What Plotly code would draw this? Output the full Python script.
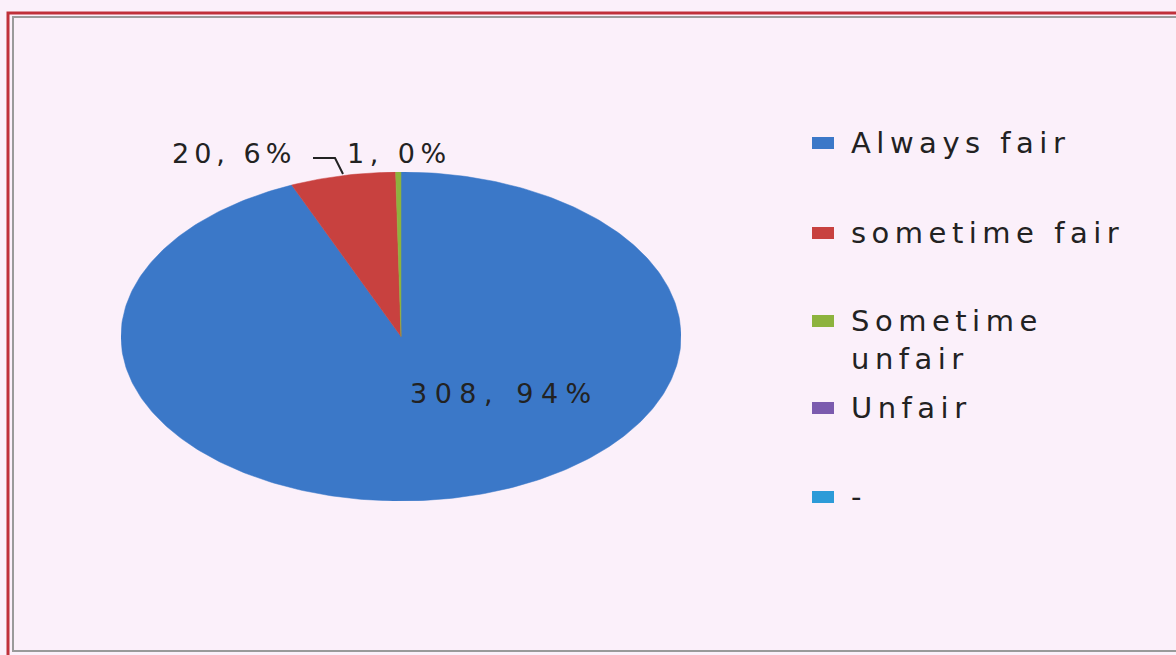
import numpy as np
import plotly.graph_objects as go

categories = ["Always fair", "sometime fair", "Sometime unfair", "Unfair", "-"]
legend_labels = ["Always fair", "sometime fair", "Sometime<br>unfair", "Unfair", "-"]
values = [308, 20, 1, 0, 0]
colors = ["#3B78C8", "#C8413F", "#8DB33E", "#7B5BAE", "#2C9BD8"]

W, H = 1176, 655
FONT = "DejaVu Sans"
TXT = "#222222"

def px(x):
    return x / W

def py(y):
    return 1 - y / H

def spaced(t, s):
    return "<br>".join(f'<span style="letter-spacing:{s}px">{p}</span>' for p in t.split("<br>"))

total = sum(values)
fig = go.Figure()

# pie slices drawn as filled sectors, clockwise from 12 o'clock; the axes stretch it to an ellipse
start = 0.0
for cat, v, c in zip(categories, values, colors):
    frac = v / total
    if v > 0:
        th = np.linspace(start, start + frac, max(int(frac * 400), 3)) * 2 * np.pi
        xs = np.concatenate([[0], np.sin(th), [0]])
        ys = np.concatenate([[0], np.cos(th), [0]])
        fig.add_trace(go.Scatter(x=xs, y=ys, fill="toself", fillcolor=c, mode="lines",
                                 line=dict(color=c, width=0.5), name=cat,
                                 showlegend=False, hoverinfo="name"))
    start += frac

fig.update_xaxes(range=[-1, 1], domain=[px(121), px(681)], visible=False, fixedrange=True)
fig.update_yaxes(range=[-1, 1], domain=[py(501), py(172)], visible=False, fixedrange=True)

def lab(i):
    return f"{values[i]}, {round(100 * values[i] / total)}%"

annotations = [
    dict(x=px(504), y=py(393), xref="paper", yref="paper", text=spaced(lab(0), 7.5), showarrow=False,
         font=dict(family=FONT, size=27, color=TXT), xanchor="center", yanchor="middle"),
    dict(x=px(170), y=py(153), xref="paper", yref="paper", text=spaced(lab(1), 5), showarrow=False,
         font=dict(family=FONT, size=27, color=TXT), xanchor="left", yanchor="middle"),
    dict(x=px(345), y=py(153), xref="paper", yref="paper", text=spaced(lab(2), 5.5), showarrow=False,
         font=dict(family=FONT, size=27, color=TXT), xanchor="left", yanchor="middle"),
]

shapes = [
    # outer frame (red on top/left, grey inner line)
    dict(type="rect", xref="paper", yref="paper", x0=px(8), x1=px(1190), y0=py(665), y1=py(13),
         line=dict(color="#C0303A", width=3), fillcolor="rgba(0,0,0,0)"),
    dict(type="rect", xref="paper", yref="paper", x0=px(13), x1=px(1190), y0=py(651), y1=py(17),
         line=dict(color="#9A9A9A", width=2), fillcolor="rgba(0,0,0,0)"),
    # leader line for small slice label
    dict(type="path", xref="paper", yref="paper",
         path=f"M {px(313)},{py(158)} L {px(335)},{py(158)} L {px(343)},{py(174)}",
         line=dict(color="#222222", width=2)),
]

# manual legend
leg_y = [143, 233, 321, 408, 497]
for txt, c, y in zip(legend_labels, colors, leg_y):
    shapes.append(dict(type="rect", xref="paper", yref="paper", x0=px(812), x1=px(834),
                       y0=py(y + 6), y1=py(y - 6), fillcolor=c, line=dict(width=0)))
    annotations.append(dict(x=px(849), y=py(y - 19), xref="paper", yref="paper", text=spaced(txt, 5.5),
                            showarrow=False, align="left", xanchor="left", yanchor="top",
                            font=dict(family=FONT, size=29, color=TXT)))

fig.update_layout(
    width=W, height=H,
    margin=dict(l=0, r=0, t=0, b=0),
    paper_bgcolor="#FBF0FA",
    plot_bgcolor="rgba(0,0,0,0)",
    showlegend=False,
    annotations=annotations,
    shapes=shapes,
)

fig.write_html("out.html", config={"displayModeBar": False},
               post_script="document.body.style.margin='0';document.body.style.background='#FBF0FA';")
